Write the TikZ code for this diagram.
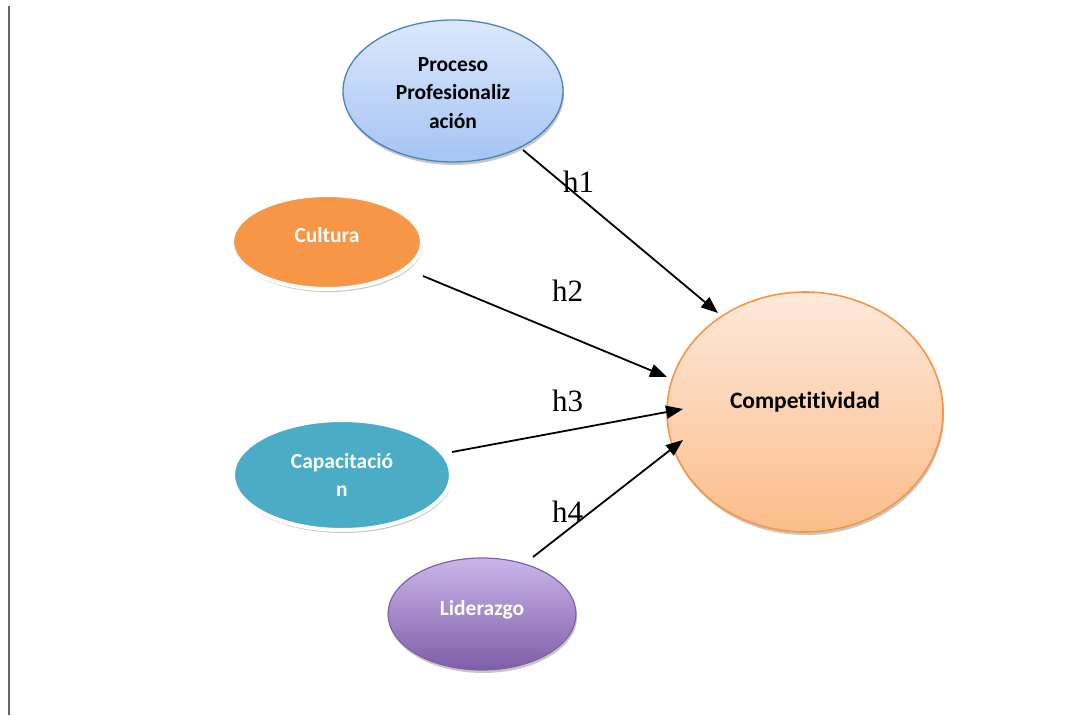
\documentclass[tikz,border=0pt]{standalone}
\usepackage{fontspec}
\setmainfont{Liberation Serif}
\newfontfamily\carlitofont[Ligatures=NoCommon]{Carlito}
\usetikzlibrary{shapes.geometric,arrows.meta,shadows}
\definecolor{blueborder}{HTML}{4F81BD}
\definecolor{bluetop}{HTML}{DCE8FB}
\definecolor{bluebot}{HTML}{A5C4F5}
\definecolor{orangefill}{HTML}{F79646}
\definecolor{tealfill}{HTML}{4BACC6}
\definecolor{purptop}{HTML}{CBB5EA}
\definecolor{purpbot}{HTML}{7E5EA8}
\definecolor{purpborder}{HTML}{8064A2}
\definecolor{peachtop}{HTML}{FDE9DA}
\definecolor{peachbot}{HTML}{FBBD89}
\tikzset{
  ell/.style={ellipse, inner sep=0pt, align=center, font=\carlitofont\bfseries\fontsize{21.5}{28.5}\selectfont},
  soft/.style={drop shadow={shadow xshift=1pt, shadow yshift=-3pt, opacity=0.22, fill=black}},
  whiteedge/.style={draw=white, line width=4pt, text=white},
  arr/.style={line width=1.8pt, -{Triangle[length=17pt,width=13pt]}},
  hlab/.style={anchor=base west, inner sep=0pt, font=\fontsize{31}{31}\selectfont}
}
\begin{document}
\begin{tikzpicture}[x=1pt,y=-1pt]
\useasboundingbox (0,0) rectangle (1065,715);
\draw[line width=2pt, color=black!60] (9,6) -- (9,715);

\node[ell, soft, draw=blueborder, line width=1.3pt, top color=bluetop, bottom color=bluebot,
  minimum width=220pt, minimum height=142pt] (proc) at (453,91) {\raisebox{-3pt}[\height][\depth]{\begin{tabular}{@{}c@{}}Proceso\\Profesionaliz\\ación\end{tabular}}};
\node[ell, soft, whiteedge, fill=orangefill, minimum width=190pt, minimum height=94pt] (cult) at (327,242) {\raisebox{0pt}[0pt][0pt]{Cultura}};
\node[ell, soft, whiteedge, fill=tealfill, minimum width=218pt, minimum height=110pt] (cap) at (342,475) {Capacitació\\n};
\node[ell, soft, draw=purpborder, line width=1.2pt, text=white, top color=purptop, bottom color=purpbot,
  minimum width=188pt, minimum height=112pt] (lid) at (482,614) {\raisebox{-1pt}[0pt][0pt]{Liderazgo}};
\node[ell, soft, draw=orangefill, line width=1.6pt, top color=peachtop, bottom color=peachbot,
  minimum width=276pt, minimum height=240pt, font=\carlitofont\bfseries\fontsize{23.5}{26}\selectfont] (comp) at (805,412) {\raisebox{4pt}[0pt][0pt]{Competitividad}};

\draw[arr] ([shift={(70,59)}]proc.center) -- ([shift={(-87,-99)}]comp.center);
\draw[arr] ([shift={(96,34)}]cult.center) -- ([shift={(-138,-35)}]comp.center);
\draw[arr] ([shift={(110,-23)}]cap.center) -- ([shift={(-122,-3)}]comp.center);
\draw[arr] ([shift={(51,-57)}]lid.center) -- ([shift={(-122,28)}]comp.center);

\node[hlab] (h1) at (563,192) {h1};
\node[hlab] (h2) at (552,301) {h2};
\node[hlab] (h3) at (552,411) {h3};
\node[hlab] (h4) at (552,522) {h4};
\end{tikzpicture}
\end{document}
